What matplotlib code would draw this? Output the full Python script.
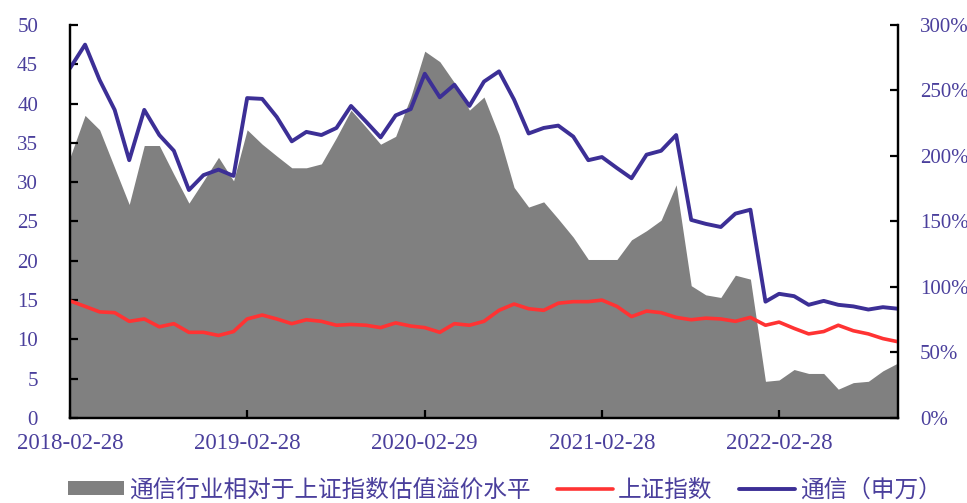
import numpy as np
import pandas as pd
import matplotlib
matplotlib.use("Agg")
import matplotlib.pyplot as plt
import matplotlib.dates as mdates
from matplotlib.ticker import FuncFormatter

# monthly month-end dates, 2018-02 .. 2022-10
dates = pd.date_range("2018-02-28", periods=57, freq="ME")

# 通信行业相对于上证指数估值溢价水平 (%), right axis
premium = [199, 231, 220, 191, 163, 208, 208, 186, 164, 181, 199,
           181, 220, 209, 200, 191, 191, 194, 214, 235, 222, 209, 215,
           245, 280, 272, 256, 235, 245, 216, 176, 161, 165, 152, 138,
           121, 121, 121, 136, 143, 151, 178, 101, 94, 92, 109, 106,
           28, 29, 37, 34, 34, 22, 27, 28, 36, 42]

# 上证指数 PE, left axis
sh_pe = [14.9, 14.2, 13.5, 13.4, 12.3, 12.6, 11.6, 12.0, 10.9, 10.9, 10.5,
         11.0, 12.6, 13.1, 12.6, 12.0, 12.5, 12.3, 11.8, 11.9, 11.8, 11.5, 12.1,
         11.7, 11.5, 10.9, 12.0, 11.8, 12.3, 13.7, 14.5, 13.9, 13.7, 14.6, 14.8,
         14.8, 15.0, 14.2, 12.9, 13.6, 13.4, 12.8, 12.5, 12.7, 12.6, 12.3, 12.8,
         11.8, 12.2, 11.4, 10.7, 11.0, 11.8, 11.1, 10.7, 10.1, 9.7]

# 通信(申万) PE, left axis
tel_pe = [44.5, 47.5, 43.0, 39.2, 32.8, 39.2, 36.0, 34.0, 29.0, 30.9, 31.6,
          30.8, 40.7, 40.6, 38.3, 35.2, 36.4, 36.0, 36.9, 39.7, 37.7, 35.7, 38.5,
          39.3, 43.8, 40.8, 42.4, 39.7, 42.8, 44.1, 40.5, 36.2, 36.9, 37.2, 35.8,
          32.8, 33.2, 31.8, 30.5, 33.5, 34.0, 36.0, 25.2, 24.7, 24.3, 26.0, 26.5,
          14.8, 15.8, 15.5, 14.4, 14.9, 14.4, 14.2, 13.8, 14.1, 13.9]

xtick_dates = ["2018-02-28", "2019-02-28", "2020-02-29", "2021-02-28", "2022-02-28"]

txt_color = "#4a3f9c"
serif = ["Liberation Serif", "DejaVu Serif"]
cjk = ["Noto Sans CJK SC", "DejaVu Sans"]

fig = plt.figure(figsize=(9.67, 5.03), dpi=100)
ax = fig.add_axes([0.0724, 0.169, 0.8562, 0.7813])
ax2 = ax.twinx()

area = ax2.fill_between(dates, premium, 0, color="#808080", linewidth=0,
                        label="通信行业相对于上证指数估值溢价水平")
l1, = ax.plot(dates, sh_pe, color="#ff3333", lw=2.6, solid_joinstyle="round",
              solid_capstyle="round", label="上证指数")
l2, = ax.plot(dates, tel_pe, color="#3c2f96", lw=2.8, solid_joinstyle="round",
              solid_capstyle="round", label="通信（申万）")

# lines above the area
ax.set_zorder(ax2.get_zorder() + 1)
ax.patch.set_visible(False)

ax.set_xlim(dates[0], dates[-1])
ax.set_ylim(0, 50)
ax2.set_ylim(0, 300)
ax.set_yticks(np.arange(0, 51, 5))
ax2.set_yticks(np.arange(0, 301, 50))
ax2.yaxis.set_major_formatter(FuncFormatter(lambda v, p: "%d%%" % v))
ax.set_xticks(pd.to_datetime(xtick_dates))
ax.xaxis.set_major_formatter(mdates.DateFormatter("%Y-%m-%d"))

for a in (ax, ax2):
    a.spines["top"].set_visible(False)
    for s in ("left", "right", "bottom"):
        a.spines[s].set_linewidth(1.6)
        a.spines[s].set_color("black")

ax.tick_params(axis="y", direction="in", length=6, width=1.6, pad=23,
               labelsize=15, labelcolor=txt_color)
ax2.tick_params(axis="y", direction="in", length=6, width=1.6, pad=16,
                labelsize=15, labelcolor=txt_color)
ax.tick_params(axis="x", direction="in", length=6, width=1.6, pad=11,
               labelsize=16.5, labelcolor=txt_color)
for lab in ax.get_xticklabels() + ax.get_yticklabels() + ax2.get_yticklabels():
    lab.set_family(serif)

leg = fig.legend([area, l1, l2], [area.get_label(), l1.get_label(), l2.get_label()],
                 loc="center left", bbox_to_anchor=(0.048, 0.026), ncol=3,
                 frameon=False, handlelength=2.4, handleheight=0.5,
                 handletextpad=0.2, columnspacing=1.1,
                 prop={"family": cjk, "size": 17})
for t in leg.get_texts():
    t.set_color(txt_color)

fig.savefig("out.png", dpi=100)
